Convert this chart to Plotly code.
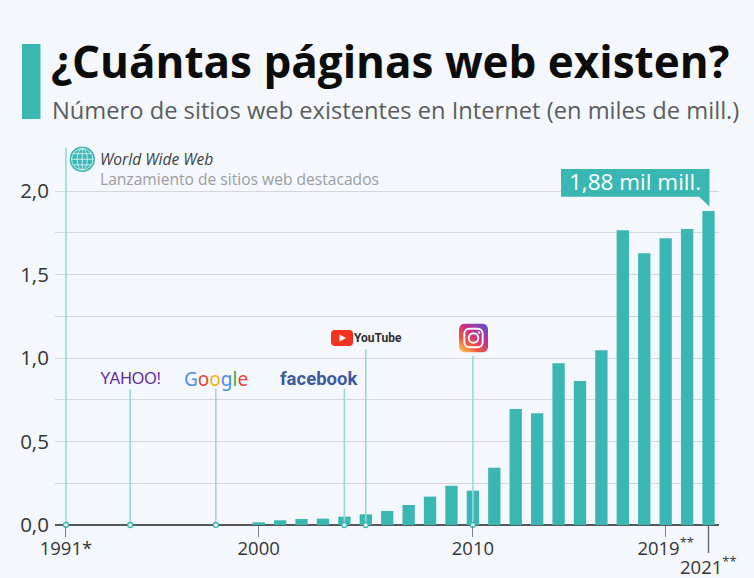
import base64
import plotly.graph_objects as go

years = list(range(2000, 2022))
sites = [0.016, 0.028, 0.036, 0.038, 0.050, 0.064, 0.084, 0.120, 0.170, 0.235, 0.206,
         0.343, 0.695, 0.669, 0.968, 0.862, 1.046, 1.765, 1.627, 1.717, 1.772, 1.880]
milestone_years = [1991, 1994, 1998, 2004, 2005, 2010]
milestone_tops = [2.26, 0.815, 0.815, 0.815, 1.054, 1.014]
x_tick_years = [1991, 2000, 2010, 2019, 2021]
x_tick_labels = ["1991*", "2000", "2010", "2019<sup>**</sup>", " "]
y_ticks = [0, 0.5, 1.0, 1.5, 2.0]
y_minor_ticks = [0.25, 0.75, 1.25, 1.75]

TEAL = "#3ab7b3"
LINE = "#97d9d7"
BG = "#f4f8fc"
W, H = 754, 578
L, R, T, B = 55, 719, 147, 525
FONT = "Open Sans"


def fx(p):
    return (p - L) / (R - L)


def fy(p):
    return (B - p) / (B - T)


def uri(svg):
    return "data:image/svg+xml;base64," + base64.b64encode(svg.encode()).decode()


globe = uri('''<svg xmlns="http://www.w3.org/2000/svg" viewBox="0 0 50 50">
<circle cx="25" cy="25" r="25" fill="#3ab7b3"/>
<g fill="none" stroke="#e8f7f6" stroke-width="1.6">
<circle cx="25" cy="25" r="21"/><ellipse cx="25" cy="25" rx="10" ry="21"/>
<path d="M25 4V46M4 25H46M7 14H43M7 36H43"/></g></svg>''')

yt_icon = uri('''<svg xmlns="http://www.w3.org/2000/svg" viewBox="0 0 44 32">
<rect width="44" height="32" rx="8" fill="#f0321e"/>
<path d="M17 9L30 16L17 23Z" fill="#fff"/></svg>''')

insta = uri('''<svg xmlns="http://www.w3.org/2000/svg" viewBox="0 0 60 60">
<defs><linearGradient id="g" x1="0.1" y1="1" x2="0.9" y2="0">
<stop offset="0" stop-color="#fdc84e"/><stop offset="0.3" stop-color="#f2553b"/>
<stop offset="0.6" stop-color="#c72f8f"/><stop offset="1" stop-color="#5a4fcf"/></linearGradient></defs>
<rect width="60" height="60" rx="12" fill="url(#g)"/>
<g fill="none" stroke="#fff" stroke-width="4"><rect x="11" y="11" width="38" height="38" rx="10"/>
<circle cx="30" cy="30" r="10"/></g><circle cx="41.5" cy="18.5" r="2.6" fill="#fff"/></svg>''')

fig = go.Figure()
fig.add_trace(go.Bar(x=years, y=sites, width=0.575, marker=dict(color=TEAL, line_width=0), hoverinfo="skip"))
for yr, top in zip(milestone_years, milestone_tops):
    fig.add_trace(go.Scatter(x=[yr, yr], y=[0, top], mode="lines", line=dict(color=LINE, width=1.6),
                             hoverinfo="skip"))
fig.add_trace(go.Scatter(x=milestone_years, y=[0] * len(milestone_years), mode="markers", cliponaxis=False,
                         marker=dict(size=5, color="#e8f7f6", line=dict(color=TEAL, width=1.3)),
                         hoverinfo="skip"))

google = ("<span style='color:#4a8cf0'>G</span><span style='color:#ea4335'>o</span>"
          "<span style='color:#f5b400'>o</span><span style='color:#4a8cf0'>g</span>"
          "<span style='color:#34a853'>l</span><span style='color:#ea4335'>e</span>")
www = ("<i><span style='color:#3c3f42'>World Wide Web</span></i><br>"
       "<span style='color:#9a9da0'>Lanzamiento de sitios web destacados</span>")


def ann(text, x, y, size, color, xref="paper", yref="paper", family=FONT, anchor="center", **kw):
    return dict(text=text, x=x, y=y, xref=xref, yref=yref, showarrow=False, xanchor=anchor, yanchor="middle",
                font=dict(size=size, color=color, family=family), **kw)


annotations = [
    ann("<b>¿Cuántas páginas web existen?</b>", fx(49), fy(61), 44, "#0c0c0c", anchor="left"),
    ann("Número de sitios web existentes en Internet (en miles de mill.)", fx(49.5), fy(110), 23.7, "#5a5d60",
        anchor="left"),
    ann(www, fx(97.5), fy(168.5), 15.6, "#3c3f42", anchor="left", align="left"),
    ann("YAHOO!", 1994, 0.878, 16, "#5f2a9c", "x", "y", "Liberation Sans"),
    ann(google, 1998, 0.875, 19, "#4a8cf0", "x", "y", "Noto Sans"),
    ann("<b>facebook</b>", 2002.83, 0.875, 18.5, "#3f5a9c", "x", "y", "Roboto"),
    ann("<b>YouTube</b>", 2005.57, 1.12, 12, "#2e2e2e", "x", "y", "Roboto"),
    ann("1,88 mil mill.", fx(635), fy(181.5), 22.5, "#ffffff"),
    ann("2021<sup>**</sup>", 2021, fy(565), 18.5, "#333538", "x", "paper"),
]

shapes = [
    dict(type="rect", xref="paper", yref="paper", x0=fx(22), x1=fx(40.5), y0=fy(44), y1=fy(119),
         fillcolor=TEAL, line_width=0),
    dict(type="path", xref="paper", yref="paper", fillcolor=TEAL, line_width=0,
         path=f"M{fx(561)},{fy(169)}L{fx(709.5)},{fy(169)}L{fx(709.5)},{fy(206.5)}L{fx(699)},{fy(196.7)}L{fx(561)},{fy(196.7)}Z"),
    dict(type="line", xref="x", yref="paper", x0=2021, x1=2021, y0=0, y1=fy(553), line=dict(color="#666a6d", width=1.4)),
]

images = [
    dict(source=globe, xref="paper", yref="paper", x=fx(69.5), y=fy(146.5), sizex=(25.5) / (R - L), sizey=25.5 / (B - T),
         sizing="stretch", layer="above"),
    dict(source=yt_icon, xref="paper", yref="paper", x=fx(331), y=fy(330), sizex=22 / (R - L), sizey=16 / (B - T),
         sizing="stretch", layer="above"),
    dict(source=insta, xref="paper", yref="paper", x=fx(459), y=fy(323.5), sizex=29 / (R - L), sizey=29 / (B - T),
         sizing="stretch", layer="above"),
]

fig.update_layout(
    width=W, height=H, autosize=False,
    margin=dict(l=L, r=W - R, t=T, b=H - B, pad=0),
    paper_bgcolor=BG, plot_bgcolor=BG,
    showlegend=False, separators=",.",
    font=dict(family=FONT, color="#333538"),
    annotations=annotations, shapes=shapes, images=images,
    xaxis=dict(range=[1990.49, 2021.49], tickmode="array", tickvals=x_tick_years, ticktext=x_tick_labels,
               automargin=False, ticklabelstandoff=-4,
               showgrid=False, zeroline=False, showline=False, ticks="outside", ticklen=11, tickwidth=1.4,
               tickcolor="#7d8083", tickangle=0, tickfont=dict(size=18.5, color="#333538")),
    yaxis=dict(range=[0, 2.2635], tickmode="array", tickvals=y_ticks, tickformat=".1f", automargin=False,
               showgrid=True, gridcolor="#d3d7da", gridwidth=1.4, zeroline=True, zerolinecolor="#55585b",
               zerolinewidth=1.5, ticks="outside", ticklen=1, tickcolor="rgba(0,0,0,0)",
               tickfont=dict(size=20.5, color="#333538"),
               minor=dict(tickmode="array", tickvals=y_minor_ticks, showgrid=True, gridcolor="#d3d7da",
                          gridwidth=1.4, ticks="")),
)

fig.write_html("out.html", config=dict(displayModeBar=False),
               post_script="document.body.style.margin='0';document.body.style.background='#f4f8fc';")
